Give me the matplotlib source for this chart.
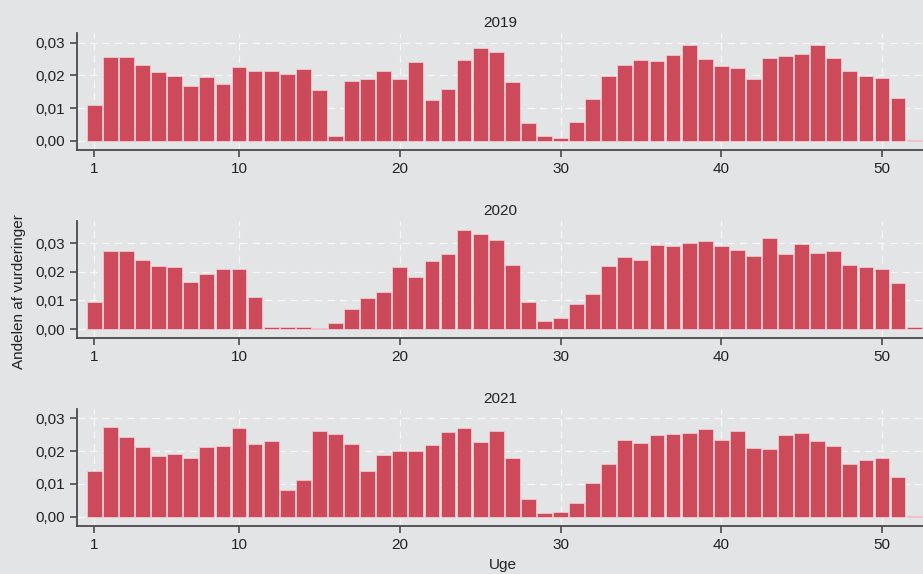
import matplotlib.pyplot as plt
from matplotlib import font_manager
from matplotlib.ticker import FuncFormatter

# use regular Liberation Sans (not the Narrow variant)
for path in font_manager.findSystemFonts():
    if path.endswith('LiberationSans-Regular.ttf'):
        font_manager.fontManager.addfont(path)
        plt.rcParams['font.family'] = [font_manager.FontProperties(fname=path).get_name(), 'DejaVu Sans']
        break

weeks = list(range(1, 53))

andel_2019 = [0.0110, 0.0255, 0.0257, 0.0231, 0.0209, 0.0197, 0.0168, 0.0196, 0.0174, 0.0224,
              0.0214, 0.0214, 0.0204, 0.0219, 0.0156, 0.0015, 0.0184, 0.0188, 0.0212, 0.0188,
              0.0241, 0.0125, 0.0158, 0.0247, 0.0282, 0.0270, 0.0179, 0.0054, 0.0014, 0.0010,
              0.0058, 0.0127, 0.0197, 0.0233, 0.0248, 0.0245, 0.0263, 0.0291, 0.0249, 0.0227,
              0.0222, 0.0189, 0.0254, 0.0260, 0.0264, 0.0292, 0.0252, 0.0214, 0.0197, 0.0193,
              0.0130, 0.0002]

andel_2020 = [0.0096, 0.0274, 0.0273, 0.0243, 0.0221, 0.0216, 0.0166, 0.0191, 0.0209, 0.0210,
              0.0113, 0.0007, 0.0007, 0.0006, 0.0002, 0.0020, 0.0069, 0.0109, 0.0131, 0.0218,
              0.0182, 0.0238, 0.0262, 0.0346, 0.0332, 0.0312, 0.0224, 0.0093, 0.0027, 0.0037,
              0.0086, 0.0121, 0.0219, 0.0252, 0.0243, 0.0293, 0.0292, 0.0300, 0.0307, 0.0291,
              0.0277, 0.0255, 0.0319, 0.0263, 0.0298, 0.0265, 0.0272, 0.0224, 0.0216, 0.0211,
              0.0161, 0.0006]

andel_2021 = [0.0139, 0.0274, 0.0242, 0.0212, 0.0185, 0.0192, 0.0179, 0.0211, 0.0216, 0.0270,
              0.0221, 0.0231, 0.0080, 0.0111, 0.0260, 0.0251, 0.0223, 0.0140, 0.0188, 0.0199,
              0.0200, 0.0219, 0.0258, 0.0269, 0.0228, 0.0260, 0.0178, 0.0055, 0.0011, 0.0014,
              0.0042, 0.0102, 0.0162, 0.0235, 0.0224, 0.0249, 0.0253, 0.0256, 0.0268, 0.0233,
              0.0261, 0.0208, 0.0206, 0.0250, 0.0255, 0.0230, 0.0215, 0.0160, 0.0173, 0.0178,
              0.0121, 0.0001]

years = ['2019', '2020', '2021']
series = [andel_2019, andel_2020, andel_2021]
xticks = [1, 10, 20, 30, 40, 50]
yticks = [0.00, 0.01, 0.02, 0.03]

bg = '#e3e4e6'
bar_color = '#cd4a5b'
axis_color = '#4a4a4a'

# axes boxes in figure fraction: left, bottom, width, height
boxes = [[0.0834, 0.7387, 0.9166, 0.2038],
         [0.0834, 0.4111, 0.9166, 0.2039],
         [0.0834, 0.0831, 0.9166, 0.2049]]
ylims = [(-0.00275, 0.0329), (-0.00315, 0.0378), (-0.0029, 0.0329)]

comma = FuncFormatter(lambda v, pos: f'{v:.2f}'.replace('.', ','))

fig = plt.figure(figsize=(9.23, 5.74), dpi=100)
fig.patch.set_facecolor(bg)

for box, year, vals, ylim in zip(boxes, years, series, ylims):
    ax = fig.add_axes(box)
    ax.set_facecolor(bg)
    ax.bar(weeks, vals, width=0.92, color=bar_color, edgecolor='#f2c9cf',
           linewidth=0.6, zorder=3)
    ax.set_xlim(-0.08, 52.55)
    ax.set_ylim(*ylim)
    ax.set_xticks(xticks)
    ax.set_yticks(yticks)
    ax.yaxis.set_major_formatter(comma)
    ax.grid(True, color='#f7f7f7', linestyle=(0, (6, 4)), linewidth=0.9, zorder=0)
    for side in ['top', 'right']:
        ax.spines[side].set_visible(False)
    for side in ['left', 'bottom']:
        ax.spines[side].set_color(axis_color)
        ax.spines[side].set_linewidth(1.3)
    ax.tick_params(colors=axis_color, labelcolor='#222222', labelsize=11,
                   length=5, width=1.2)
    ax.set_title(year, fontsize=11, color='#222222', pad=4)

fig.text(0.021, 0.492, 'Andelen af vurderinger', rotation=90, ha='center',
         va='center', fontsize=11, color='#222222')
fig.text(0.545, 0.016, 'Uge', ha='center', va='center', fontsize=11,
         color='#222222')

fig.savefig('out.png', dpi=100, facecolor=bg)
